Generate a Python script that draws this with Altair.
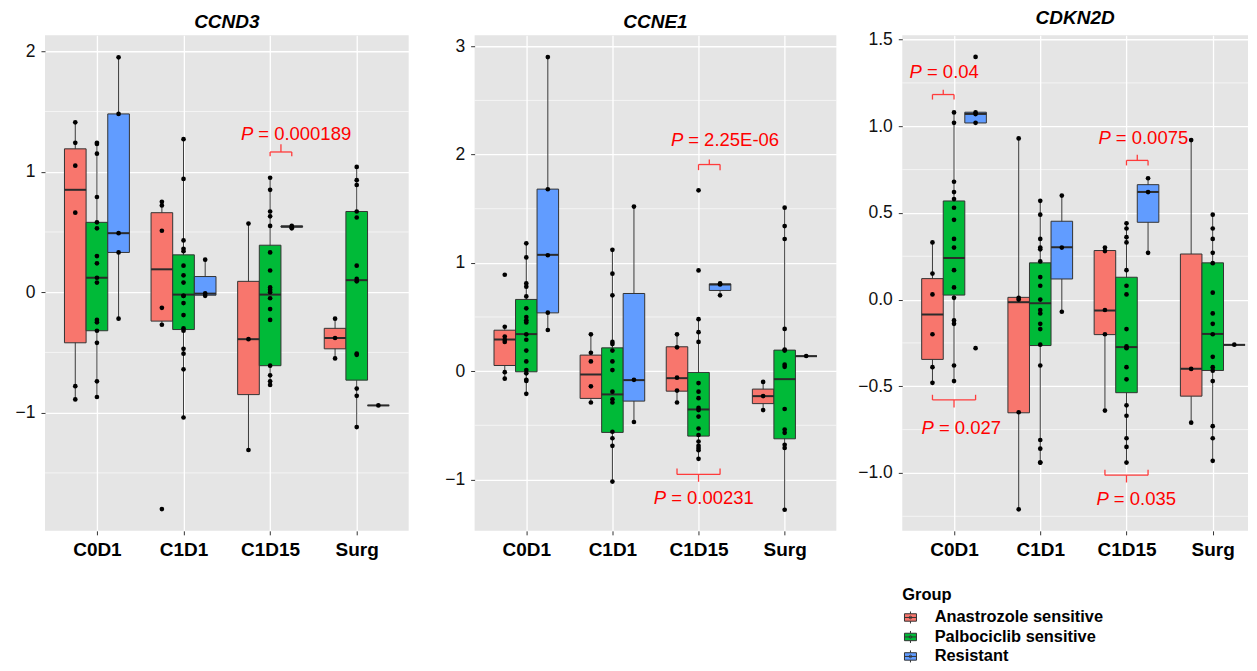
import json
import altair as alt
import pandas as pd

FONT = "Liberation Sans"
TIMEPOINTS = ["C0D1", "C1D1", "C1D15", "Surg"]
GROUPS = ["Anastrozole sensitive", "Palbociclib sensitive", "Resistant"]
GROUP_COLORS = ["#F8766D", "#00BA38", "#619CFF"]
GENES = ["CCND3", "CCNE1", "CDKN2D"]

# ---- box statistics, order: C0D1(A,P,R), C1D1(A,P,R), C1D15(A,P,R), Surg(A,P,R)
ccnd3_q3 = [1.19, 0.58, 1.48, 0.66, 0.31, 0.13, 0.09, 0.39, 0.55, -0.30, 0.67, -0.94]
ccnd3_med = [0.85, 0.12, 0.49, 0.19, -0.02, -0.012, -0.39, -0.02, 0.545, -0.38, 0.10, -0.94]
ccnd3_q1 = [-0.42, -0.32, 0.33, -0.24, -0.31, -0.025, -0.85, -0.61, 0.54, -0.47, -0.73, -0.94]
ccnd3_hi = [1.41, 1.24, 1.95, 0.75, 1.27, 0.27, 0.57, 0.95, 0.555, -0.22, 1.04, -0.94]
ccnd3_lo = [-0.89, -0.87, -0.22, -0.27, -1.04, -0.03, -1.31, -0.78, 0.53, -0.55, -1.12, -0.94]

ccne1_q3 = [0.378, 0.662, 1.681, 0.148, 0.215, 0.717, 0.225, -0.012, 0.805, -0.166, 0.194, 0.138]
ccne1_med = [0.292, 0.342, 1.074, -0.031, -0.215, -0.083, -0.065, -0.354, 0.80, -0.231, -0.074, 0.138]
ccne1_q1 = [0.052, -0.006, 0.538, -0.252, -0.566, -0.277, -0.185, -0.60, 0.745, -0.30, -0.625, 0.138]
ccne1_hi = [0.41, 1.184, 2.90, 0.338, 1.123, 1.521, 0.348, 0.477, 0.81, -0.098, 1.512, 0.138]
ccne1_lo = [-0.074, -0.212, 0.385, -0.292, -1.02, -0.474, -0.292, -0.806, 0.70, -0.36, -1.277, 0.138]

cdkn2d_q3 = [0.121, 0.569, 1.081, 0.013, 0.212, 0.452, 0.283, 0.129, 0.663, 0.263, 0.212, -0.261]
cdkn2d_med = [-0.086, 0.24, 1.071, -0.015, -0.021, 0.302, -0.063, -0.274, 0.621, -0.399, -0.198, -0.261]
cdkn2d_q1 = [-0.345, 0.026, 1.019, -0.653, -0.265, 0.119, -0.202, -0.537, 0.446, -0.557, -0.409, -0.261]
cdkn2d_hi = [0.333, 1.083, 1.081, 0.933, 0.573, 0.602, 0.304, 0.438, 0.702, 0.923, 0.494, -0.261]
cdkn2d_lo = [-0.482, -0.472, 1.019, -1.211, -0.94, -0.073, -0.643, -0.94, 0.273, -0.71, -0.927, -0.261]

# ---- individual samples, per group: [C0D1, C1D1, C1D15, Surg]
ccnd3_anastrozole = [
    [1.41, 1.24, 1.05, 0.66, -0.78, -0.89],
    [0.75, 0.72, 0.51, -0.13, -0.27, -1.80],
    [0.57, -0.39, -1.31],
    [-0.22, -0.38, -0.55],
]
ccnd3_palbociclib = [
    [1.24, 1.23, 1.15, 0.79, 0.58, 0.53, 0.30, 0.24, 0.12, 0.08, -0.23, -0.25, -0.32, -0.42, -0.74, -0.87],
    [1.27, 0.94, 0.43, 0.36, 0.34, 0.22, 0.14, 0.08, -0.03, -0.03, -0.09, -0.19, -0.30, -0.32, -0.47, -0.51, -0.64, -1.04],
    [0.95, 0.85, 0.67, 0.63, 0.55, 0.33, 0.18, 0.04, 0.02, 0.00, -0.05, -0.14, -0.23, -0.61, -0.69, -0.74, -0.77],
    [1.04, 0.93, 0.89, 0.67, 0.62, 0.22, 0.11, 0.09, -0.51, -0.52, -0.80, -0.86, -1.12],
]
ccnd3_resistant = [
    [1.95, 1.48, 0.49, 0.33, -0.22],
    [0.27, -0.01, -0.03],
    [0.55, 0.54, 0.53],
    [-0.94],
]

ccne1_anastrozole = [
    [0.89, 0.41, 0.32, 0.29, 0.27, -0.01, -0.07],
    [0.34, 0.17, 0.09, -0.14, -0.29],
    [0.34, 0.22, -0.06, -0.18, -0.29],
    [-0.10, -0.23, -0.36],
]
ccne1_palbociclib = [
    [1.18, 1.05, 0.81, 0.78, 0.69, 0.58, 0.50, 0.47, 0.45, 0.34, 0.29, 0.19, 0.09, 0.01, -0.02, -0.08, -0.09, -0.21],
    [1.12, 0.90, 0.70, 0.27, 0.25, 0.19, 0.09, 0.01, -0.19, -0.26, -0.29, -0.56, -0.62, -0.69, -1.02],
    [1.67, 0.93, 0.48, 0.36, 0.27, -0.11, -0.19, -0.25, -0.34, -0.36, -0.42, -0.53, -0.59, -0.65, -0.69, -0.71, -0.73, -0.81],
    [1.51, 1.34, 1.22, 0.39, 0.20, 0.19, 0.06, 0.04, -0.35, -0.54, -0.57, -0.68, -0.71, -1.28],
]
ccne1_resistant = [
    [2.90, 1.68, 1.07, 0.54, 0.38],
    [1.52, -0.08, -0.47],
    [0.81, 0.80, 0.70],
    [0.14],
]

cdkn2d_anastrozole = [
    [0.33, 0.15, 0.03, -0.20, -0.39, -0.48],
    [0.93, 0.01, 0.00, -0.65, -1.21],
    [0.30, 0.28, -0.06, -0.20, -0.64],
    [0.92, -0.40, -0.71],
]
cdkn2d_palbociclib = [
    [1.08, 1.02, 0.68, 0.62, 0.58, 0.53, 0.46, 0.35, 0.30, 0.17, 0.07, 0.01, -0.12, -0.14, -0.38, -0.47],
    [0.57, 0.49, 0.35, 0.30, 0.29, 0.22, 0.13, 0.08, 0.00, -0.06, -0.08, -0.14, -0.17, -0.26, -0.38, -0.81, -0.86, -0.94, -0.94],
    [0.44, 0.41, 0.36, 0.33, 0.17, 0.08, 0.03, -0.17, -0.27, -0.28, -0.39, -0.46, -0.61, -0.67, -0.80, -0.85, -0.94],
    [0.49, 0.41, 0.35, 0.27, 0.21, 0.04, -0.08, -0.14, -0.20, -0.33, -0.39, -0.41, -0.47, -0.73, -0.80, -0.93],
]
cdkn2d_resistant = [
    [1.40, 1.08, 1.07, 1.02, -0.28],
    [0.60, 0.30, -0.07],
    [0.70, 0.62, 0.27],
    [-0.26],
]

# ---- significance annotations
ANN_GENE = ["CCND3", "CCNE1", "CCNE1", "CDKN2D", "CDKN2D", "CDKN2D", "CDKN2D"]
ANN_TIME = ["C1D15", "C1D15", "C1D15", "C0D1", "C0D1", "C1D15", "C1D15"]
ANN_FROM = ["Palbociclib sensitive", "Palbociclib sensitive", "Anastrozole sensitive",
            "Anastrozole sensitive", "Anastrozole sensitive", "Palbociclib sensitive",
            "Anastrozole sensitive"]
ANN_TO = ["Resistant", "Resistant", "Resistant", "Palbociclib sensitive", "Resistant",
          "Resistant", "Resistant"]
ANN_PVALUE = ["0.000189", "2.25E-06", "0.00231", "0.04", "0.027", "0.0075", "0.035"]
ANN_BAR_Y = [1.164, 1.908, -0.954, 1.183, -0.579, 0.803, -1.013]
ANN_LEG_Y = [1.128, 1.856, -0.899, 1.154, -0.549, 0.774, -0.982]
ANN_TICK_Y = [1.228, 1.955, -1.022, 1.211, -0.622, 0.836, -1.055]
ANN_TEXT_Y = [1.317, 2.133, -1.176, 1.313, -0.741, 0.932, -1.151]
ANN_TEXT_X = [2.805, 2.822, 2.624, 0.628, 0.767, 2.818, 2.795]

DODGE = 0.25
HALF = 0.125
LABEL_EXPR = json.dumps(TIMEPOINTS) + "[datum.value - 1]"
LEGEND_SYMBOL = ("M-1,-0.62H1V0.62H-1Z M-1,0H1 M0,-1V-0.62 M0,0.62V1 "
                 "M0.22,0A0.22,0.22 0 1 1 -0.22,0A0.22,0.22 0 1 1 0.22,0")


def group_pos(ti, group):
    return ti + 1 + (GROUPS.index(group) - 1) * DODGE


def build_panel(gene, stats, points, ydomain, yticks, yminor, yfmt, width, xmax, legend):
    q1, med, q3, lo, hi = stats
    box_rows, pt_rows = [], []
    for ti, t in enumerate(TIMEPOINTS):
        for gi, g in enumerate(GROUPS):
            k = ti * 3 + gi
            pos = group_pos(ti, g)
            box_rows.append({"time": t, "group": g, "pos": pos, "left": pos - HALF,
                             "right": pos + HALF, "q1": q1[k], "med": med[k],
                             "q3": q3[k], "lo": lo[k], "hi": hi[k]})
            for v in points[g][ti]:
                pt_rows.append({"time": t, "group": g, "pos": pos, "value": v})
    box = pd.DataFrame(box_rows)
    pts = pd.DataFrame(pt_rows)

    seg_rows, txt_rows = [], []
    for i, gname in enumerate(ANN_GENE):
        if gname != gene:
            continue
        ti = TIMEPOINTS.index(ANN_TIME[i])
        x1 = group_pos(ti, ANN_FROM[i])
        x2 = group_pos(ti, ANN_TO[i])
        xm = (x1 + x2) / 2
        yb, yl, yt = ANN_BAR_Y[i], ANN_LEG_Y[i], ANN_TICK_Y[i]
        seg_rows += [
            {"x": x1, "x2": x2, "y": yb, "y2": yb},
            {"x": x1, "x2": x1, "y": yb, "y2": yl},
            {"x": x2, "x2": x2, "y": yb, "y2": yl},
            {"x": xm, "x2": xm, "y": yb, "y2": yt},
        ]
        txt_rows.append({"tx": ANN_TEXT_X[i], "ty": ANN_TEXT_Y[i], "p": "P",
                         "rest": "= " + ANN_PVALUE[i]})
    segs = pd.DataFrame(seg_rows)
    txts = pd.DataFrame(txt_rows)

    xscale = alt.Scale(domain=[0.4, xmax], nice=False, zero=False)
    yscale = alt.Scale(domain=ydomain, nice=False, zero=False)
    xaxis = alt.Axis(values=[1, 2, 3, 4], labelExpr=LABEL_EXPR, title=None, grid=True,
                     gridColor="white", gridWidth=1.3, domain=False, tickColor="#333333",
                     tickSize=4, labelFontSize=19, labelFontWeight="bold", labelColor="black",
                     labelPadding=6, labelFlush=False, labelFont=FONT)
    yaxis = alt.Axis(values=yticks, format=yfmt, title=None, grid=True, gridColor="white",
                     gridWidth=1.3, domain=False, tickColor="#333333", tickSize=4,
                     labelFontSize=17.5, labelColor="#111111", labelPadding=6, labelFont=FONT)

    def X(f):
        return alt.X(f, type="quantitative", scale=xscale, axis=xaxis)

    def Y(f):
        return alt.Y(f, type="quantitative", scale=yscale, axis=yaxis)

    minor = alt.Chart(pd.DataFrame({"v": yminor})).mark_rule(
        color="white", strokeWidth=0.6).encode(y=Y("v"))
    whisk = alt.Chart(box).mark_rule(color="#3a3a3a", strokeWidth=1).encode(
        x=X("pos"), y=Y("lo"), y2="hi")
    boxes = alt.Chart(box).mark_rect(stroke="#333333", strokeWidth=1).encode(
        x=X("left"), x2="right", y=Y("q1"), y2="q3",
        fill=alt.Fill("group:N", scale=alt.Scale(domain=GROUPS, range=GROUP_COLORS),
                      legend=legend))
    meds = alt.Chart(box).mark_rule(color="#2b2b2b", strokeWidth=2).encode(
        x=X("left"), x2="right", y=Y("med"))
    dots = alt.Chart(pts).mark_circle(color="black", size=22, opacity=1).encode(
        x=X("pos"), y=Y("value"))
    brackets = alt.Chart(segs).mark_rule(color="#FF3B3B", strokeWidth=1.3).encode(
        x=X("x"), x2="x2", y=Y("y"), y2="y2")
    ptxt = alt.Chart(txts).mark_text(align="right", baseline="middle", fontStyle="italic",
                                     fontSize=18.5, color="#FF0000", font=FONT).encode(
        x=X("tx"), y=Y("ty"), text="p:N")
    rtxt = alt.Chart(txts).mark_text(align="left", baseline="middle", dx=5,
                                     fontSize=18.5, color="#FF0000", font=FONT).encode(
        x=X("tx"), y=Y("ty"), text="rest:N")

    return alt.layer(minor, whisk, boxes, meds, dots, brackets, ptxt, rtxt).properties(
        width=width, height=496,
        title=alt.TitleParams(gene, fontSize=19, fontWeight="bold", fontStyle="italic",
                              color="black", offset=3, anchor="middle", font=FONT))


legend3 = alt.Legend(orient="none", legendX=0, legendY=552, direction="vertical",
                     title="Group", titleFontSize=16.5, titleFontWeight="bold",
                     titleColor="black", titleFont=FONT, titlePadding=6,
                     labelFontSize=16.4, labelFontWeight="bold", labelColor="black",
                     labelFont=FONT, labelLimit=300, labelOffset=16,
                     symbolType=LEGEND_SYMBOL, symbolSize=144, symbolStrokeColor="#333333",
                     symbolStrokeWidth=1, symbolOpacity=1, rowPadding=2.5, padding=0)

p1 = build_panel("CCND3",
                 (ccnd3_q1, ccnd3_med, ccnd3_q3, ccnd3_lo, ccnd3_hi),
                 {GROUPS[0]: ccnd3_anastrozole, GROUPS[1]: ccnd3_palbociclib,
                  GROUPS[2]: ccnd3_resistant},
                 [-1.981, 2.133], [-1, 0, 1, 2], [-1.5, -0.5, 0.5, 1.5], "d",
                 364, 4.6, None)
p2 = build_panel("CCNE1",
                 (ccne1_q1, ccne1_med, ccne1_q3, ccne1_lo, ccne1_hi),
                 {GROUPS[0]: ccne1_anastrozole, GROUPS[1]: ccne1_palbociclib,
                  GROUPS[2]: ccne1_resistant},
                 [-1.475, 3.102], [-1, 0, 1, 2, 3], [-0.5, 0.5, 1.5, 2.5], "d",
                 362, 4.6, None)
p3 = build_panel("CDKN2D",
                 (cdkn2d_q1, cdkn2d_med, cdkn2d_q3, cdkn2d_lo, cdkn2d_hi),
                 {GROUPS[0]: cdkn2d_anastrozole, GROUPS[1]: cdkn2d_palbociclib,
                  GROUPS[2]: cdkn2d_resistant},
                 [-1.334, 1.525], [-1.0, -0.5, 0.0, 0.5, 1.0, 1.5],
                 [-1.25, -0.75, -0.25, 0.25, 0.75, 1.25], ".1f",
                 346, 4.409, legend3)

chart = (
    alt.hconcat(p1, p2, p3, spacing=66, bounds="flush")
    .resolve_scale(x="independent", y="independent", fill="independent")
    .resolve_legend(fill="independent")
    .properties(padding={"left": 7, "top": 0, "right": 0, "bottom": 0})
    .configure(font=FONT)
    .configure_view(fill="#E5E5E5", stroke=None)
)

chart.save("out.html", embed_options={"renderer": "svg", "actions": False})
